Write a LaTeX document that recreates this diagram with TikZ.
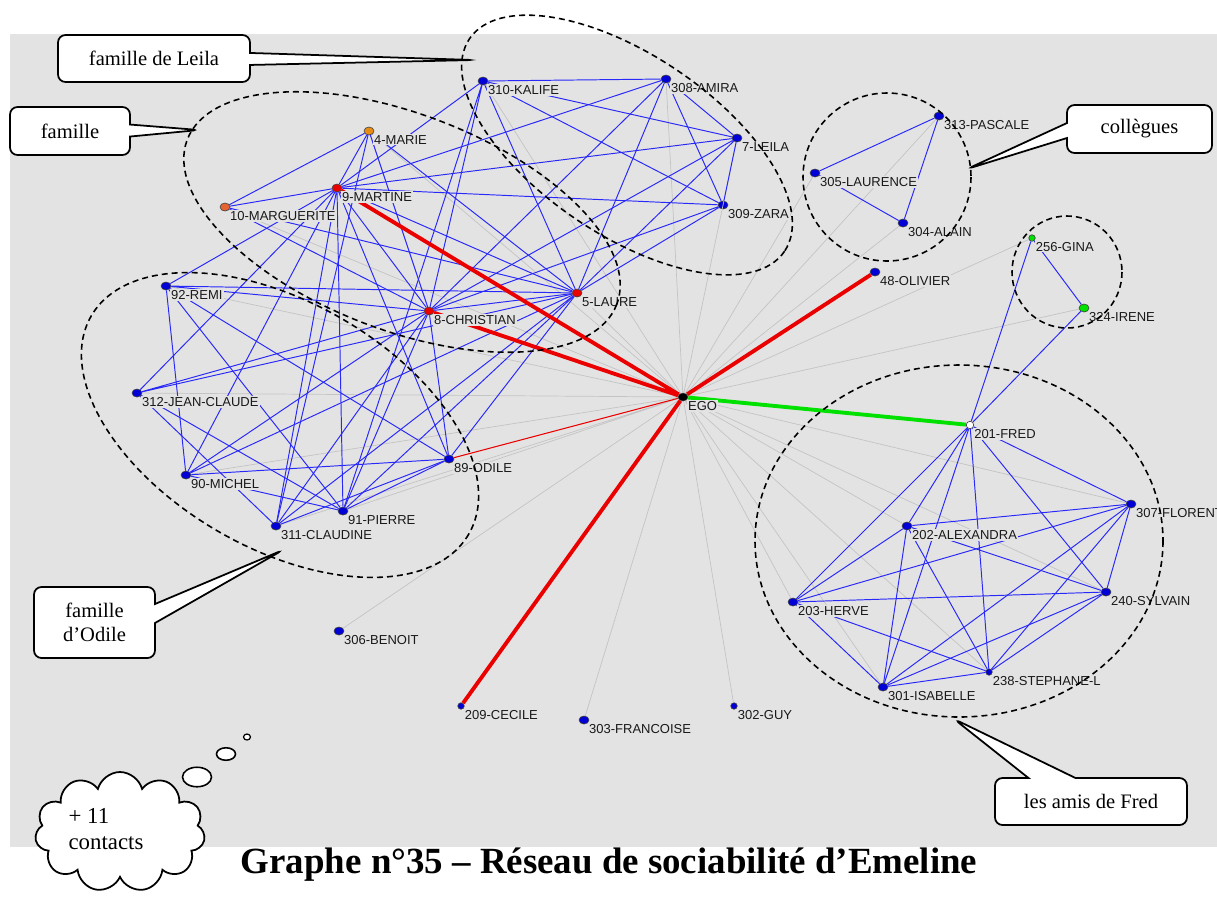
\documentclass[tikz,border=0pt]{standalone}
\usepackage{fontspec}
\setmainfont{Liberation Serif}
\newfontfamily\labfont{Liberation Sans}
\usepackage{xcolor}
\usetikzlibrary{shapes.geometric,shapes.symbols,shapes.callouts}

\definecolor{fond}{RGB}{227,227,227}
\definecolor{lienbleu}{RGB}{40,40,250}
\definecolor{liengris}{RGB}{196,196,196}
\definecolor{rouge}{RGB}{235,0,0}
\definecolor{vert}{RGB}{0,225,0}
\definecolor{orangea}{RGB}{230,140,20}
\definecolor{orangeb}{RGB}{230,100,50}
\definecolor{bleunoeud}{RGB}{0,0,215}

\tikzset{
  pers/.style={ellipse, draw=black!75, fill=bleunoeud, inner sep=0pt, line width=0.35pt,
    minimum width=0.2cm, minimum height=0.16cm},
  petit/.style={pers, minimum width=0.13cm, minimum height=0.13cm},
  lab/.style={anchor=north west, inner sep=0.6pt, fill=fond, text=black!90,
    font=\labfont\fontsize{7.4}{8.5}\selectfont},
  lien/.style={lienbleu, line width=0.55pt},
  egolien/.style={liengris, line width=0.4pt},
  fort/.style={rouge, line width=2.2pt},
  groupe/.style={black, line width=0.9pt, dash pattern=on 3.4pt off 2.3pt},
  bulle/.style={rectangle callout, draw, line width=1pt, fill=white, rounded corners=0.15cm,
    align=center, inner sep=0pt, font=\fontsize{11.7}{13.5}\selectfont},
  pensee/.style={ellipse, draw, line width=0.9pt, fill=white, inner sep=0pt},
}

\begin{document}
\begin{tikzpicture}[x=0.02cm, y=-0.02cm]
    \useasboundingbox (0,0) rectangle (1217,897);
    % grey background of the graph
    \fill[fond] (10,34) rectangle (1217,847);

    % ego
    \node[pers, fill=black] (ego) at (683,397) {};

    % family of Leila
    \node[pers] (kalife) at (483,81) {};
    \node[pers] (amira) at (666,79) {};
    \node[pers] (leila) at (737,138) {};
    \node[pers] (zara) at (723,205) {};

    % family
    \node[pers, fill=orangea] (marie) at (369,131) {};
    \node[pers, fill=rouge] (martine) at (337,188) {};
    \node[pers, fill=orangeb] (marguerite) at (225,207) {};
    \node[pers, fill=rouge] (laure) at (577,293) {};
    \node[pers, fill=rouge] (christian) at (429,311) {};

    % family of Odile
    \node[pers] (remi) at (166,286) {};
    \node[pers] (jeanclaude) at (137,393) {};
    \node[pers] (michel) at (186,475) {};
    \node[pers] (claudine) at (276,526) {};
    \node[pers] (pierre) at (343,511) {};
    \node[pers] (odile) at (449,459) {};

    % colleagues and others
    \node[pers] (pascale) at (939,116) {};
    \node[pers] (laurence) at (815,173) {};
    \node[pers] (alain) at (903,223) {};
    \node[pers] (olivier) at (875,272) {};
    \node[petit, fill=vert] (gina) at (1032,238) {};
    \node[pers, fill=vert] (irene) at (1084,308) {};
    \node[pers] (benoit) at (339,631) {};
    \node[petit] (cecile) at (461,706) {};
    \node[pers] (francoise) at (584,720) {};
    \node[petit] (guy) at (734,706) {};

    % friends of Fred
    \node[pers, fill=white, minimum width=0.15cm, minimum height=0.15cm] (fred) at (970,425) {};
    \node[pers] (alexandra) at (907,526) {};
    \node[pers] (florent) at (1131,504) {};
    \node[pers] (herve) at (793,602) {};
    \node[pers] (sylvain) at (1106,592) {};
    \node[petit] (stephane) at (989,672) {};
    \node[pers] (isabelle) at (883,687) {};

    % grey ties to ego
    \draw[egolien] (ego) -- (kalife) (ego) -- (amira) (ego) -- (leila) (ego) -- (zara)
        (ego) -- (marie) (ego) -- (marguerite) (ego) -- (laure) (ego) -- (remi)
        (ego) -- (jeanclaude) (ego) -- (michel) (ego) -- (claudine) (ego) -- (pierre)
        (ego) -- (pascale) (ego) -- (laurence) (ego) -- (alain) (ego) -- (gina)
        (ego) -- (irene) (ego) -- (benoit) (ego) -- (francoise) (ego) -- (guy)
        (ego) -- (alexandra) (ego) -- (florent) (ego) -- (herve) (ego) -- (sylvain)
        (ego) -- (stephane) (ego) -- (isabelle);

    % blue ties between alters
    \draw[lien] (kalife) -- (amira) (kalife) -- (leila) (kalife) -- (zara) (kalife) -- (laure)
        (kalife) -- (christian) (kalife) -- (martine) (kalife) -- (pierre);
    \draw[lien] (amira) -- (leila) (amira) -- (zara) (amira) -- (laure) (amira) -- (martine)
        (amira) -- (christian);
    \draw[lien] (leila) -- (zara) (leila) -- (martine) (leila) -- (laure) (leila) -- (christian);
    \draw[lien] (zara) -- (martine) (zara) -- (laure) (zara) -- (christian);
    \draw[lien] (marie) -- (marguerite) (marie) -- (martine) (marie) -- (laure)
        (marie) -- (christian) (marie) -- (claudine);
    \draw[lien] (martine) -- (marguerite) (martine) -- (remi) (martine) -- (jeanclaude)
        (martine) -- (michel) (martine) -- (claudine) (martine) -- (pierre)
        (martine) -- (odile) (martine) -- (christian) (martine) -- (laure);
    \draw[lien] (marguerite) -- (christian) (marguerite) -- (laure);
    \draw[lien] (remi) -- (laure) (remi) -- (christian) (remi) -- (michel) (remi) -- (pierre)
        (remi) -- (odile);
    \draw[lien] (jeanclaude) -- (christian) (jeanclaude) -- (laure) (jeanclaude) -- (claudine)
        (jeanclaude) -- (pierre);
    \draw[lien] (michel) -- (pierre) (michel) -- (odile) (michel) -- (christian) (michel) -- (laure);
    \draw[lien] (claudine) -- (christian) (claudine) -- (laure) (claudine) -- (odile);
    \draw[lien] (pierre) -- (christian) (pierre) -- (laure) (pierre) -- (odile);
    \draw[lien] (christian) -- (laure) (christian) -- (odile) (laure) -- (odile);
    \draw[lien] (pascale) -- (laurence) (pascale) -- (alain) (laurence) -- (alain);
    \draw[lien] (fred) -- (gina) (fred) -- (irene) (gina) -- (irene);
    \draw[lien] (fred) -- (herve) (fred) -- (alexandra) (fred) -- (isabelle) (fred) -- (stephane)
        (fred) -- (sylvain) (fred) -- (florent);
    \draw[lien] (alexandra) -- (florent) (alexandra) -- (herve) (alexandra) -- (isabelle)
        (alexandra) -- (stephane) (alexandra) -- (sylvain);
    \draw[lien] (herve) -- (florent) (herve) -- (sylvain) (herve) -- (isabelle) (herve) -- (stephane);
    \draw[lien] (florent) -- (sylvain) (florent) -- (stephane) (florent) -- (isabelle);
    \draw[lien] (sylvain) -- (isabelle) (sylvain) -- (stephane) (isabelle) -- (stephane);

    % strong ties to ego
    \draw[fort] (ego) -- (martine) (ego) -- (christian) (ego) -- (olivier) (ego) -- (cecile);
    \draw[rouge, line width=0.6pt] (ego) -- (odile);
    \draw[vert, line width=2.2pt] (ego) -- (fred);

    % names
    \node[lab] (egolab) at (ego.south east) {EGO};
    \node[lab] (kalifelab) at (kalife.south east) {310-KALIFE};
    \node[lab] (amiralab) at (amira.south east) {308-AMIRA};
    \node[lab] (leilalab) at (leila.south east) {7-LEILA};
    \node[lab] (zaralab) at (zara.south east) {309-ZARA};
    \node[lab] (marielab) at (marie.south east) {4-MARIE};
    \node[lab] (martinelab) at (martine.south east) {9-MARTINE};
    \node[lab] (margueritelab) at (marguerite.south east) {10-MARGUERITE};
    \node[lab] (laurelab) at (laure.south east) {5-LAURE};
    \node[lab] (christianlab) at (christian.south east) {8-CHRISTIAN};
    \node[lab] (remilab) at (remi.south east) {92-REMI};
    \node[lab] (jeanclaudelab) at (jeanclaude.south east) {312-JEAN-CLAUDE};
    \node[lab] (michellab) at (michel.south east) {90-MICHEL};
    \node[lab] (claudinelab) at (claudine.south east) {311-CLAUDINE};
    \node[lab] (pierrelab) at (pierre.south east) {91-PIERRE};
    \node[lab] (odilelab) at (odile.south east) {89-ODILE};
    \node[lab] (pascalelab) at (pascale.south east) {313-PASCALE};
    \node[lab] (laurencelab) at (laurence.south east) {305-LAURENCE};
    \node[lab] (alainlab) at (alain.south east) {304-ALAIN};
    \node[lab] (olivierlab) at (olivier.south east) {48-OLIVIER};
    \node[lab] (ginalab) at (gina.south east) {256-GINA};
    \node[lab] (irenelab) at (irene.south east) {324-IRENE};
    \node[lab] (benoitlab) at (benoit.south east) {306-BENOIT};
    \node[lab] (cecilelab) at (cecile.south east) {209-CECILE};
    \node[lab] (francoiselab) at (francoise.south east) {303-FRANCOISE};
    \node[lab] (guylab) at (guy.south east) {302-GUY};
    \node[lab] (fredlab) at (fred.south east) {201-FRED};
    \node[lab] (alexandralab) at (alexandra.south east) {202-ALEXANDRA};
    \node[lab] (florentlab) at (florent.south east) {307-FLORENT};
    \node[lab] (hervelab) at (herve.south east) {203-HERVE};
    \node[lab] (sylvainlab) at (sylvain.south east) {240-SYLVAIN};
    \node[lab] (stephanelab) at (stephane.south east) {238-STEPHANE-L};
    \node[lab] (isabellelab) at (isabelle.south east) {301-ISABELLE};

    % dashed groups
    \draw[groupe, rotate around={-34:(627,145)}] (627,145) ellipse [x radius=190, y radius=90];
    \draw[groupe, rotate around={-21:(402,222)}] (402,222) ellipse [x radius=230, y radius=108];
    \draw[groupe, rotate around={-30:(280,425)}] (280,425) ellipse [x radius=218, y radius=123];
    \draw[groupe] (887,177) circle [radius=84];
    \draw[groupe] (1067,272) ellipse [x radius=55, y radius=56];
    \draw[groupe] (959,541) ellipse [x radius=204, y radius=176];

    % callouts
    \node[bulle, minimum width=3.84cm, minimum height=0.94cm, callout pointer width=0.24cm,
        callout absolute pointer={(474,60)}] (leilabox) at (154,58.5) {famille de Leila};
    \node[bulle, minimum width=2.4cm, minimum height=0.96cm, callout pointer width=0.24cm,
        callout absolute pointer={(199,130)}] (famillebox) at (70,131) {famille};
    \node[bulle, minimum width=2.9cm, minimum height=0.96cm, callout pointer width=0.3cm,
        callout absolute pointer={(967,169)}] (colleguesbox) at (1139.5,129) {collègues};
    \node[bulle, minimum width=2.42cm, minimum height=1.42cm, callout pointer width=0.38cm,
        callout absolute pointer={(283,550)}] (odilebox) at (94.5,622.5) {famille\\d’Odile};
    \node[bulle, minimum width=3.84cm, minimum height=0.94cm, callout pointer width=0.94cm,
        callout absolute pointer={(954,719)}] (amisbox) at (1091,801.5) {les amis de Fred};

    % thought cloud
    \node[pensee, minimum width=0.14cm, minimum height=0.12cm, line width=0.7pt] (pensee3) at (247,737) {};
    \node[pensee, minimum width=0.38cm, minimum height=0.25cm] (pensee2) at (226,754) {};
    \node[pensee, minimum width=0.58cm, minimum height=0.39cm] (pensee1) at (197,777) {};
    \node[cloud, draw, line width=1pt, fill=white, cloud puffs=11, aspect=1.4,
        cloud ignores aspect, minimum width=3.4cm, minimum height=2.4cm] (nuage) at (120,832) {};
    \node[align=left, inner sep=0pt, font=\fontsize{13}{15}\selectfont] (nuagetexte) at (106,829)
        {+ 11\\contacts};

    % caption
    \node[font=\bfseries\fontsize{21}{24}\selectfont] (titre) at (609,865)
        {Graphe n°35 – Réseau de sociabilité d’Emeline};
\end{tikzpicture}
\end{document}
